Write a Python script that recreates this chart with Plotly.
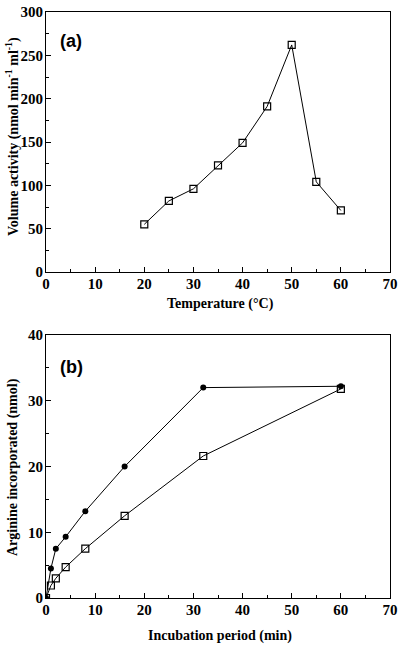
import plotly.graph_objects as go
from plotly.subplots import make_subplots

temp_c = [20, 25, 30, 35, 40, 45, 50, 55, 60]
volume_activity = [55, 82, 96, 123, 149, 191, 262, 104, 71]

time_min = [0, 1, 2, 4, 8, 16, 32, 60]
arg_filled = [0, 4.5, 7.5, 9.3, 13.2, 20.0, 32.0, 32.2]
arg_open = [0, 1.9, 3.0, 4.7, 7.5, 12.5, 21.6, 31.8]

x_title_a = "Temperature (°C)"
y_title_a = "Volume activity (nmol min<sup>-1</sup> ml<sup>-1</sup>)"
x_title_b = "Incubation period (min)"
y_title_b = "Arginine incorporated (nmol)"

fig = make_subplots(rows=2, cols=1, vertical_spacing=0.1)

sq = dict(symbol="square-open", size=7, color="black", line=dict(width=1.2, color="black"))

fig.add_trace(go.Scatter(x=temp_c, y=volume_activity, mode="lines+markers",
                         line=dict(color="black", width=1), marker=sq,
                         showlegend=False), row=1, col=1)

fig.add_trace(go.Scatter(x=time_min, y=arg_open, mode="lines+markers",
                         line=dict(color="black", width=1), marker=sq,
                         showlegend=False), row=2, col=1)
fig.add_trace(go.Scatter(x=time_min, y=arg_filled, mode="lines+markers",
                         line=dict(color="black", width=1),
                         marker=dict(symbol="circle", size=6, color="black"),
                         showlegend=False), row=2, col=1)

H, W = 650, 406
mt, mb, ml, mr = 12, 52, 46, 16
ph = H - mt - mb
pw = W - ml - mr

def fy(ypix):
    return (H - mb - ypix) / ph

def fx(xpix):
    return (xpix - ml) / pw

tickfont = dict(family="Liberation Serif", size=15, color="black", weight="bold")
titlefont = dict(family="Liberation Serif", size=14, color="black", weight="bold")

axis_common = dict(showline=True, linecolor="black", linewidth=1, mirror=True,
                   ticks="inside", ticklen=5, tickwidth=1, tickcolor="black",
                   showgrid=False, zeroline=False, tickfont=tickfont,
                   automargin=False)

fig.update_xaxes(**axis_common, range=[0, 70], dtick=10, ticklabelstandoff=-2,
                 minor=dict(ticks="inside", ticklen=3, dtick=5, tickcolor="black"))
fig.update_yaxes(**axis_common, ticklabelstandoff=-1)

fig.update_yaxes(range=[0, 300], dtick=50,
                 minor=dict(ticks="inside", ticklen=3, dtick=25, tickcolor="black"),
                 row=1, col=1)
fig.update_yaxes(range=[0, 40], dtick=10,
                 minor=dict(ticks="inside", ticklen=3, dtick=5, tickcolor="black"),
                 row=2, col=1)

fig.update_layout(
    width=W, height=H,
    margin=dict(l=ml, r=mr, t=mt, b=mb),
    plot_bgcolor="white", paper_bgcolor="white",
    font=dict(family="Liberation Serif", color="black"),
    yaxis=dict(domain=[fy(272), 1.0]),
    yaxis2=dict(domain=[0.0, fy(335)]),
)

def title_ann(text, xp, yp, angle=0):
    fig.add_annotation(text=text, xref="paper", yref="paper", x=fx(xp), y=fy(yp),
                       xanchor="center", yanchor="middle", showarrow=False,
                       textangle=angle, font=titlefont)

title_ann(x_title_a, 220, 304)
title_ann(y_title_a, 13, 137, -90)
title_ann(x_title_b, 220, 636)
title_ann(y_title_b, 13, 467, -90)

fig.add_annotation(text="<b>(a)</b>", xref="x domain", yref="y domain", x=0.035, y=0.89,
                   xanchor="left", yanchor="middle", showarrow=False,
                   font=dict(family="Liberation Sans", size=18, color="black"))
fig.add_annotation(text="<b>(b)</b>", xref="x2 domain", yref="y2 domain", x=0.035, y=0.88,
                   xanchor="left", yanchor="middle", showarrow=False,
                   font=dict(family="Liberation Sans", size=18, color="black"))

fig.write_html("out.html", config={"displayModeBar": False},
               post_script="document.body.style.margin='0';")
